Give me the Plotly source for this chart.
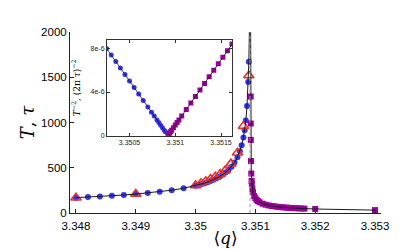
import plotly.graph_objects as go
import math

# ---- data ----
q_c = 3.35092

# T (blue circles), branch below q_c
blue_q = [3.3480, 3.3482, 3.3484, 3.3486, 3.3488, 3.3490, 3.3492, 3.3494, 3.3496, 3.3498,
          3.3500, 3.35005, 3.3501, 3.35015, 3.3502, 3.35025, 3.3503, 3.35035, 3.3504, 3.35045,
          3.3505, 3.35055, 3.3506, 3.35065, 3.3507, 3.35074, 3.35077, 3.3508, 3.35082, 3.35084,
          3.35086, 3.35088, 3.35089]
blue_T = [169.4, 175.5, 182.3, 190.0, 198.8, 208.9, 220.7, 234.7, 251.9, 273.5,
          301.7, 310.3, 319.6, 329.8, 341.1, 353.6, 367.6, 383.3, 401.3, 422.2,
          446.6, 475.8, 511.6, 557.0, 617.0, 682.2, 747.3, 835.5, 915.2, 1023,
          1181, 1447, 1671]

# tau (red open triangles)
red_q = [3.3480, 3.3490, 3.3500, 3.35009, 3.35017, 3.35025, 3.35033, 3.35041, 3.35049,
         3.35059, 3.35070, 3.35080, 3.35089]
red_tau = [168, 210, 305, 328, 350, 375, 400, 430, 465, 545, 665, 960, 1520]

# tau (purple squares), branch above q_c
purple_q = [3.3509213, 3.3509222, 3.3509232, 3.3509264, 3.3509311, 3.3509369, 3.35094,
            3.35095, 3.35096, 3.35098, 3.35100, 3.35102, 3.35104, 3.35107, 3.35112,
            3.35117, 3.35122, 3.35127, 3.35132, 3.35137, 3.35142, 3.35147, 3.35152,
            3.35157, 3.35162, 3.35167, 3.35172, 3.35177, 3.35182, 3.35200, 3.35300]
purple_tau = [1287, 989, 808, 574, 436, 354, 325, 265, 230, 188, 162.5, 145.3, 132.7,
              118.6, 102.8, 91.9, 83.9, 77.7, 72.7, 68.5, 65.0, 62.0, 59.3, 57.0, 54.9,
              53.1, 51.4, 49.8, 48.4, 44.2, 31.9]

# where the fitted curves leave the top of the main frame
blue_fit_top = (3.350899, 2000)
purple_fit_top = (3.3509205, 2000)

x_ticks = [3.348, 3.349, 3.350, 3.351, 3.352, 3.353]
x_ticktext = ["3.348", "3.349", "3.35", "3.351", "3.352", "3.353"]
y_ticks = [0, 500, 1000, 1500, 2000]
inset_x_ticks = [3.3505, 3.3510, 3.3515]
inset_x_text = ["3.3505", "3.351", "3.3515"]
inset_y_ticks = [0, 4e-6, 8e-6]
inset_y_text = ["0", "4e-6", "8e-6"]

# inset quantities: T^-2 and (2 pi tau)^-2
inset_blue = [t ** -2 for t in blue_T]
inset_purple = [(2 * math.pi * t) ** -2 for t in purple_tau]

BLUE = "#3434f2"
PURPLE = "#990099"
RED = "#e0332c"

fig = go.Figure()

# main: vertical dotted line at q_c
fig.add_shape(type="line", xref="x", yref="y", x0=q_c - 0.00001, x1=q_c - 0.00001, y0=0, y1=2000,
              line=dict(color="#9a9a9a", width=1, dash="dot"))

fig.add_trace(go.Scatter(x=blue_q, y=blue_T, mode="markers",
                         marker=dict(color=BLUE, size=6, symbol="circle"),
                         xaxis="x", yaxis="y", showlegend=False))
fig.add_trace(go.Scatter(x=purple_q, y=purple_tau, mode="markers",
                         marker=dict(color=PURPLE, size=6, symbol="square"),
                         xaxis="x", yaxis="y", showlegend=False))
fig.add_trace(go.Scatter(x=red_q, y=red_tau, mode="markers",
                         marker=dict(color=RED, size=9, symbol="triangle-up-open",
                                     line=dict(width=1.6, color=RED)),
                         xaxis="x", yaxis="y", showlegend=False))
# fitted black lines
fig.add_trace(go.Scatter(x=blue_q + [blue_fit_top[0]], y=blue_T + [blue_fit_top[1]], mode="lines",
                         line=dict(color="#1a1a1a", width=1),
                         xaxis="x", yaxis="y", showlegend=False))
fig.add_trace(go.Scatter(x=[purple_fit_top[0]] + purple_q, y=[purple_fit_top[1]] + purple_tau, mode="lines",
                         line=dict(color="#1a1a1a", width=1),
                         xaxis="x", yaxis="y", showlegend=False))

# inset
fig.add_trace(go.Scatter(x=blue_q, y=inset_blue, mode="markers",
                         marker=dict(color=BLUE, size=5, symbol="circle"),
                         xaxis="x2", yaxis="y2", showlegend=False, cliponaxis=True))
fig.add_trace(go.Scatter(x=purple_q, y=inset_purple, mode="markers",
                         marker=dict(color=PURPLE, size=5, symbol="square"),
                         xaxis="x2", yaxis="y2", showlegend=False, cliponaxis=True))
fig.add_trace(go.Scatter(x=blue_q, y=inset_blue, mode="lines",
                         line=dict(color="#1a1a1a", width=0.8),
                         xaxis="x2", yaxis="y2", showlegend=False))
fig.add_trace(go.Scatter(x=purple_q, y=inset_purple, mode="lines",
                         line=dict(color="#1a1a1a", width=0.8),
                         xaxis="x2", yaxis="y2", showlegend=False))

tickfont_main = dict(family="Liberation Sans, Arial", size=11.5, color="#000")
tickfont_inset = dict(family="Liberation Sans, Arial", size=7, color="#222")

fig.add_annotation(text="<i>T</i><sup>−2</sup>, (2π <i>τ</i>)<sup>−2</sup>",
                   xref="paper", yref="paper", x=0.02, y=0.69, textangle=-90,
                   showarrow=False, xanchor="center", yanchor="middle",
                   font=dict(family="DejaVu Serif", size=9, color="#000"))

fig.update_layout(
    width=415, height=249,
    margin=dict(l=62, r=42, t=24, b=38),
    paper_bgcolor="white", plot_bgcolor="white",
    xaxis=dict(domain=[0, 1], range=[3.3479, 3.3531], showline=True, linecolor="#222",
               linewidth=1, ticks="inside", ticklen=4, tickcolor="#222",
               tickvals=x_ticks, ticktext=x_ticktext, showgrid=False, zeroline=False,
               tickfont=tickfont_main, ticklabelstandoff=2,
               title=dict(text="⟨<i>q</i>⟩", font=dict(family="DejaVu Serif", size=17, color="#000"),
                          standoff=1)),
    yaxis=dict(domain=[0, 1], range=[0, 2000], showline=True, linecolor="#222",
               linewidth=1, ticks="inside", ticklen=4, tickcolor="#222",
               tickvals=y_ticks, showgrid=False, zeroline=False, tickfont=tickfont_main,
               title=dict(text="<i>T</i>, <i>τ</i>", font=dict(family="DejaVu Serif", size=18, color="#000"),
                          standoff=1)),
    xaxis2=dict(domain=[0.119, 0.521], anchor="y2", range=[3.350254, 3.35162],
                showline=True, mirror="ticks", linecolor="#333", linewidth=1,
                ticks="inside", ticklen=3, tickcolor="#333",
                tickvals=inset_x_ticks, ticktext=inset_x_text, showgrid=False, zeroline=False,
                tickfont=tickfont_inset),
    yaxis2=dict(domain=[0.428, 0.957], anchor="x2", range=[0, 8.8e-6],
                showline=True, mirror="ticks", linecolor="#333", linewidth=1,
                ticks="inside", ticklen=3, tickcolor="#333",
                tickvals=inset_y_ticks, ticktext=inset_y_text, showgrid=False, zeroline=False,
                tickfont=tickfont_inset),
)

fig.write_html("out.html")
